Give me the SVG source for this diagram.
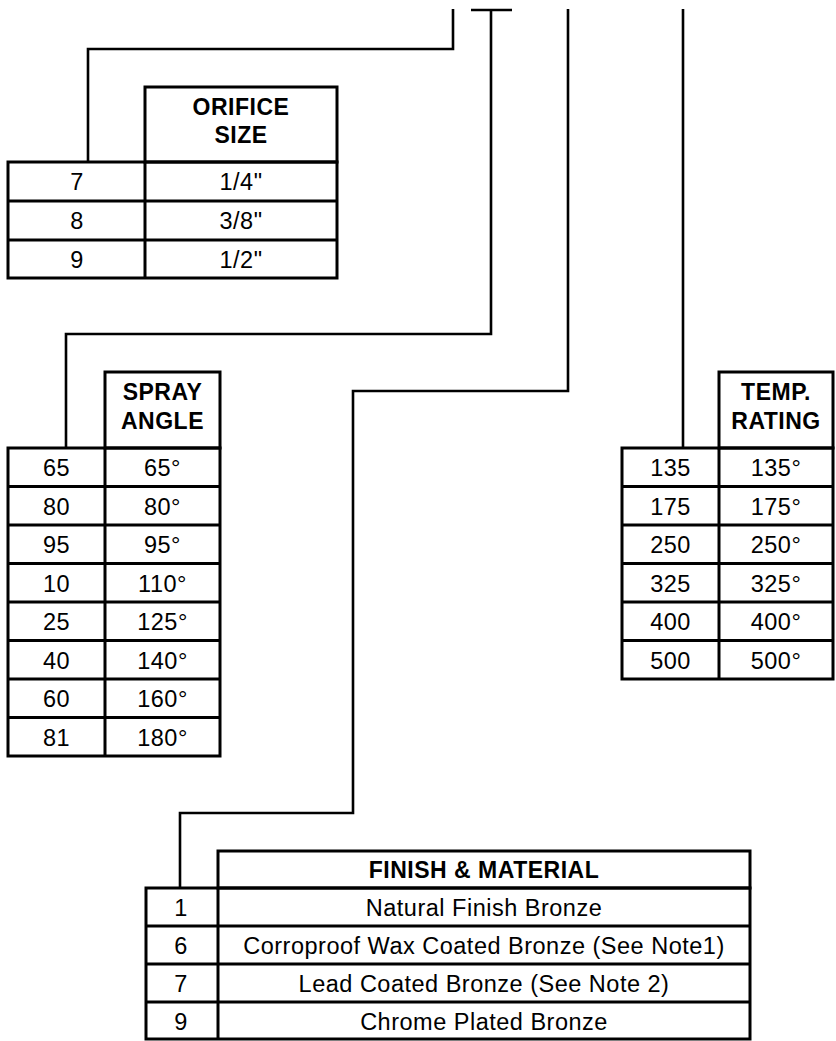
<svg xmlns="http://www.w3.org/2000/svg" width="836" height="1041" viewBox="0 0 836 1041">
<style>
.bg{fill:#ffffff}
.cell{fill:none;stroke:#000;stroke-width:3;stroke-linecap:square}
.ln{fill:none;stroke:#000;stroke-width:3}
.conn{fill:none;stroke:#000;stroke-width:2.6;stroke-linejoin:miter}
text{font-family:"Liberation Sans",Arial,Helvetica,sans-serif;font-size:23.5px;fill:#000;text-anchor:middle;letter-spacing:0.5px}
.h{font-weight:bold;font-size:23px}
</style>
<rect class="bg" x="0" y="0" width="836" height="1041"/>

<g id="connectors">
  <polyline class="conn" points="453,9 453,49 88,49 88,162"/>
  <line class="conn" x1="471" y1="10" x2="512" y2="10"/>
  <polyline class="conn" points="491,10 491,334 66,334 66,448"/>
  <polyline class="conn" points="568,9 568,391 353,391 353,813 180,813 180,888"/>
  <line class="conn" x1="683" y1="9" x2="683" y2="448"/>
</g>

<g id="orifice-size">
  <rect class="cell" x="145" y="87" width="192" height="75"/>
  <rect class="cell" x="8" y="162" width="329" height="116"/>
  <line class="ln" x1="145" y1="162" x2="145" y2="278"/>
  <line class="ln" x1="8" y1="201" x2="337" y2="201"/>
  <line class="ln" x1="8" y1="240" x2="337" y2="240"/>
  <text class="h" x="241" y="115">ORIFICE</text>
  <text class="h" x="241" y="143">SIZE</text>
  <text x="77" y="190">7</text><text x="241" y="190">1/4"</text>
  <text x="77" y="229">8</text><text x="241" y="229">3/8"</text>
  <text x="77" y="268">9</text><text x="241" y="268">1/2"</text>
</g>

<g id="spray-angle">
  <rect class="cell" x="105" y="372" width="115" height="76"/>
  <rect class="cell" x="8" y="448" width="212" height="308"/>
  <line class="ln" x1="105" y1="448" x2="105" y2="756"/>
  <line class="ln" x1="8" y1="486.5" x2="220" y2="486.5"/>
  <line class="ln" x1="8" y1="525" x2="220" y2="525"/>
  <line class="ln" x1="8" y1="563.5" x2="220" y2="563.5"/>
  <line class="ln" x1="8" y1="602" x2="220" y2="602"/>
  <line class="ln" x1="8" y1="640.5" x2="220" y2="640.5"/>
  <line class="ln" x1="8" y1="679" x2="220" y2="679"/>
  <line class="ln" x1="8" y1="717.5" x2="220" y2="717.5"/>
  <text class="h" x="162.5" y="400">SPRAY</text>
  <text class="h" x="162.5" y="429">ANGLE</text>
  <text x="56.5" y="476">65</text><text x="162.5" y="476">65°</text>
  <text x="56.5" y="514.5">80</text><text x="162.5" y="514.5">80°</text>
  <text x="56.5" y="553">95</text><text x="162.5" y="553">95°</text>
  <text x="56.5" y="591.5">10</text><text x="162.5" y="591.5">110°</text>
  <text x="56.5" y="630">25</text><text x="162.5" y="630">125°</text>
  <text x="56.5" y="668.5">40</text><text x="162.5" y="668.5">140°</text>
  <text x="56.5" y="707">60</text><text x="162.5" y="707">160°</text>
  <text x="56.5" y="745.5">81</text><text x="162.5" y="745.5">180°</text>
</g>

<g id="temp-rating">
  <rect class="cell" x="719" y="372" width="114" height="76"/>
  <rect class="cell" x="622" y="448" width="211" height="231"/>
  <line class="ln" x1="719" y1="448" x2="719" y2="679"/>
  <line class="ln" x1="622" y1="486.5" x2="833" y2="486.5"/>
  <line class="ln" x1="622" y1="525" x2="833" y2="525"/>
  <line class="ln" x1="622" y1="563.5" x2="833" y2="563.5"/>
  <line class="ln" x1="622" y1="602" x2="833" y2="602"/>
  <line class="ln" x1="622" y1="640.5" x2="833" y2="640.5"/>
  <text class="h" x="776" y="400">TEMP.</text>
  <text class="h" x="776" y="429">RATING</text>
  <text x="670.5" y="476">135</text><text x="776" y="476">135°</text>
  <text x="670.5" y="514.5">175</text><text x="776" y="514.5">175°</text>
  <text x="670.5" y="553">250</text><text x="776" y="553">250°</text>
  <text x="670.5" y="591.5">325</text><text x="776" y="591.5">325°</text>
  <text x="670.5" y="630">400</text><text x="776" y="630">400°</text>
  <text x="670.5" y="668.5">500</text><text x="776" y="668.5">500°</text>
</g>

<g id="finish-material">
  <rect class="cell" x="218" y="851" width="532" height="37"/>
  <rect class="cell" x="146" y="888" width="604" height="151"/>
  <line class="ln" x1="218" y1="888" x2="218" y2="1039"/>
  <line class="ln" x1="146" y1="926" x2="750" y2="926"/>
  <line class="ln" x1="146" y1="964" x2="750" y2="964"/>
  <line class="ln" x1="146" y1="1002" x2="750" y2="1002"/>
  <text class="h" x="484" y="878">FINISH &amp; MATERIAL</text>
  <text x="181" y="915.5">1</text><text x="484" y="915.5">Natural Finish Bronze</text>
  <text x="181" y="953.5">6</text><text x="484" y="953.5">Corroproof Wax Coated Bronze (See Note1)</text>
  <text x="181" y="991.5">7</text><text x="484" y="991.5">Lead Coated Bronze (See Note 2)</text>
  <text x="181" y="1029.5">9</text><text x="484" y="1029.5">Chrome Plated Bronze</text>
</g>
</svg>
